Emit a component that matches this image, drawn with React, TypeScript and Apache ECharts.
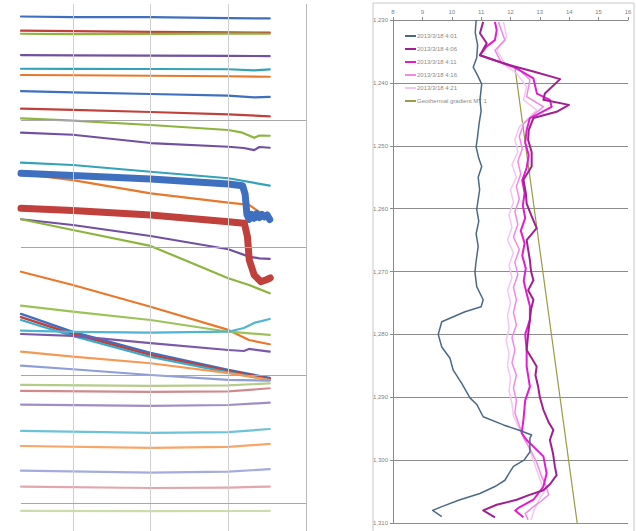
import React, { useEffect, useRef } from "react";
import * as echarts from "echarts";

// ---------- Left panel: time (x) vs value (y), 33 traces ----------
const L01 = [[0, 48.1], [2, 48.05], [5, 48.05], [8, 47.98], [9.6, 47.95]];
const L02 = [[0, 46.99], [2, 46.95], [5, 46.9], [8, 46.85], [9.6, 46.83]];
const L03 = [[0, 46.75], [2, 46.72], [5, 46.74], [8, 46.76], [9.6, 46.75]];
const L04 = [[0, 45.08], [2, 45.06], [5, 45.04], [8, 45.02], [9.6, 45.0]];
const L05 = [[0, 44.01], [2, 44.0], [5, 43.99], [8, 43.97], [9.0, 43.88], [9.6, 43.96]];
const L06 = [[0, 43.52], [2, 43.5], [5, 43.46], [8, 43.42], [9.6, 43.38]];
const L07 = [[0, 42.26], [2, 42.15], [5, 42.03], [8, 41.91], [9.0, 41.77], [9.6, 41.8]];
const L08 = [[0, 40.88], [2, 40.78], [5, 40.62], [8, 40.44], [9.6, 40.28]];
const L09 = [[0, 40.12], [2, 39.94], [5, 39.6], [8, 39.21], [8.5, 39.03], [9.0, 38.6], [9.2, 38.78], [9.6, 38.76]];
const L10 = [[0, 39.0], [2, 38.84], [5, 38.19], [8, 37.9], [8.6, 37.8], [9.0, 37.64], [9.2, 37.88], [9.6, 37.82]];
const L11 = [[0, 36.65], [2, 36.47], [5, 35.94], [8, 35.43], [9.6, 34.85]];
const L13 = [[0, 35.8], [2, 35.29], [5, 34.25], [8, 33.52], [8.8, 33.34], [9.2, 32.79], [9.6, 32.24]];
const L15 = [[0, 32.22], [2, 31.77], [5, 30.91], [8, 29.87], [8.8, 29.29], [9.2, 29.16], [9.6, 29.11]];
const L16 = [[0, 32.22], [2, 31.38], [5, 30.13], [8, 27.6], [8.8, 27.07], [9.6, 26.42]];
const L17 = [[0, 28.11], [2, 27.07], [5, 25.37], [8, 23.55], [8.8, 22.76], [9.6, 22.43]];
const L18 = [[0, 25.45], [2, 24.98], [5, 24.33], [8, 23.41], [9.6, 23.16]];
const L19 = [[0, 24.8], [2, 23.39], [5, 21.75], [8, 20.42], [9.6, 19.79]];
const L20 = [[0, 24.56], [2, 23.23], [5, 21.59], [8, 20.34], [9.6, 19.71]];
const L21 = [[0, 24.33], [2, 23.08], [5, 21.43], [8, 20.22], [9.6, 19.63]];
const L22 = [[0, 23.49], [2, 23.39], [5, 23.34], [8, 23.41], [8.6, 23.7], [9.0, 24.1], [9.6, 24.41]];
const L23 = [[0, 23.23], [2, 23.08], [5, 22.51], [8, 21.98], [8.6, 21.9], [8.8, 22.06], [9.6, 21.85]];
const L24 = [[0, 21.85], [2, 21.46], [5, 20.94], [8, 20.16], [9.6, 19.63]];
const L25 = [[0, 20.75], [2, 20.47], [5, 20.02], [8, 19.63], [9.6, 19.58]];
const L26 = [[0, 19.24], [5, 19.16], [8, 19.2], [9.6, 19.37]];
const L27 = [[0, 18.77], [5, 18.69], [8, 18.73], [9.6, 18.98]];
const L28 = [[0, 17.7], [5, 17.6], [8, 17.67], [9.6, 17.85]];
const L29 = [[0, 15.64], [5, 15.48], [8, 15.54], [9.6, 15.79]];
const L30 = [[0, 14.46], [5, 14.31], [8, 14.39], [9.6, 14.62]];
const L31 = [[0, 12.53], [5, 12.37], [8, 12.45], [9.6, 12.64]];
const L32 = [[0, 11.28], [5, 11.17], [8, 11.2], [9.6, 11.28]];
const L33 = [[0, 9.37], [5, 9.35], [9.6, 9.37]];
const L12 = [[0, 35.82], [2, 35.65], [5, 35.37], [8, 34.98], [8.55, 34.85], [8.65, 34.2], [8.72, 32.6], [8.8, 32.2], [8.9, 32.6], [9.0, 32.3], [9.1, 32.65], [9.2, 32.35], [9.3, 32.6], [9.4, 32.4], [9.5, 32.55], [9.6, 32.2]];
const L14 = [[0, 33.08], [2, 32.9], [5, 32.55], [8, 32.03], [8.5, 31.93], [8.62, 31.9], [8.74, 30.85], [8.81, 29.03], [9.0, 27.85], [9.26, 27.33], [9.45, 27.46], [9.62, 27.62]];

const leftData = [L01, L02, L03, L04, L05, L06, L07, L08, L09, L10, L11, L13, L15, L16, L17, L18, L19, L20, L21, L22, L23, L24, L25, L26, L27, L28, L29, L30, L31, L32, L33, L12, L14];
const leftColors = ["#3f6fbf", "#c0403c", "#8cb43e", "#7150a2", "#34a2b8", "#e8782c", "#3f6fbf", "#c0403c", "#8cb43e", "#7150a2", "#34a2b8", "#e8782c", "#7150a2", "#8cb43e", "#e8782c", "#9cc25a", "#3f6fbf", "#c0403c", "#3aaac8", "#50b4d4", "#7a5aa8", "#f39a56", "#8e9ed8", "#b4cc88", "#d08a8e", "#a08cc8", "#6ec2d8", "#f7a66a", "#a4acdf", "#e2a6ae", "#cddcab", "#3f6fbf", "#c0403c"];
const leftWidths = [2.2, 2.2, 2.2, 2.2, 2.2, 2.2, 2.2, 2.2, 2.2, 2.2, 2.2, 2.2, 2.2, 2.2, 2.2, 2.2, 2.4, 2.4, 2.2, 2.2, 2.2, 2.2, 2.2, 2.2, 2.2, 2.2, 2.2, 2.2, 2.2, 2.2, 2.2, 7, 7];
const leftXGrid = [2, 5, 8];
const leftYGrid = [10, 20, 30, 40];

// ---------- Right panel: temperature (x) vs depth (y) ----------
const seriesNames = ["2013/3/18 4:01", "2013/3/18 4:06", "2013/3/18 4:11", "2013/3/18 4:16", "2013/3/18 4:21", "Geothermal gradient MT 1"];
const R1 = [[10.83, 1230], [10.8, 1232], [10.88, 1234], [10.85, 1236], [10.73, 1237.5], [10.9, 1239], [11.02, 1240.2], [10.96, 1242.7], [11.0, 1244.5], [10.93, 1246.5], [10.88, 1248.5], [10.83, 1250.2], [10.92, 1252], [11.02, 1253.3], [10.9, 1255], [10.95, 1257], [10.85, 1260.1], [10.92, 1262], [10.83, 1264], [10.9, 1266], [10.82, 1268.7], [10.79, 1270.1], [10.85, 1272.4], [11.07, 1274.5], [11.0, 1275.6], [10.45, 1276.4], [9.66, 1278], [9.54, 1280], [9.66, 1282], [9.94, 1283.8], [10.05, 1285.7], [10.34, 1287.8], [10.62, 1290.1], [10.86, 1291.2], [11.07, 1293.1], [11.76, 1294.4], [12.27, 1295.2], [12.72, 1296], [12.66, 1296.5], [12.66, 1298.7], [12.46, 1300], [12.1, 1301], [11.95, 1302.1], [11.81, 1303.2], [11.47, 1304.2], [10.96, 1305.3], [10.28, 1306.3], [9.66, 1307.4], [9.35, 1308], [9.66, 1309]];
const R2 = [[11.07, 1230.3], [10.96, 1232.1], [11.19, 1233.7], [11.0, 1235.3], [10.96, 1235.6], [11.98, 1237.2], [12.78, 1238.2], [13.69, 1239.4], [13.17, 1241.7], [13.12, 1242.7], [13.99, 1243.5], [13.57, 1244.6], [12.78, 1245.6], [12.62, 1247.5], [12.6, 1249.1], [12.72, 1251], [12.72, 1253.3], [12.44, 1255.4], [12.52, 1257.5], [12.55, 1259.2], [12.7, 1261], [12.89, 1263.1], [12.55, 1265], [12.6, 1266.5], [12.66, 1268.2], [12.7, 1270], [12.78, 1271.4], [12.6, 1273], [12.78, 1274.5], [12.7, 1276], [12.66, 1277.7], [12.6, 1280], [12.55, 1282.5], [12.75, 1284], [12.89, 1285.1], [12.85, 1286.5], [12.94, 1288.3], [13.0, 1290], [13.12, 1292], [13.3, 1294], [13.46, 1295.2], [13.34, 1296.8], [13.45, 1299], [13.51, 1301], [13.57, 1302.4], [13.35, 1303.8], [13.12, 1304.8], [12.6, 1305.6], [12.21, 1306.3], [11.53, 1307.1], [11.07, 1308], [11.47, 1309.1]];
const R3 = [[11.47, 1230.3], [11.53, 1231.6], [11.47, 1233.2], [11.19, 1234.2], [10.96, 1235.6], [11.5, 1236.5], [12.1, 1237.4], [12.78, 1239.3], [12.9, 1241.7], [13.34, 1242.7], [13.4, 1243.8], [12.89, 1245.1], [12.66, 1245.6], [12.55, 1247.5], [12.5, 1249.5], [12.62, 1251.5], [12.55, 1253.5], [12.4, 1255.5], [12.48, 1257.5], [12.42, 1259.5], [12.5, 1261.5], [12.35, 1263.5], [12.48, 1265.5], [12.4, 1267.5], [12.52, 1269.5], [12.45, 1271.5], [12.55, 1273.5], [12.66, 1275.5], [12.66, 1277.7], [12.5, 1280], [12.55, 1282.5], [12.55, 1285.1], [12.66, 1288.3], [12.5, 1290.5], [12.44, 1293.6], [12.38, 1295.7], [12.55, 1296.8], [13.12, 1299.4], [13.23, 1302.1], [13.12, 1304.2], [12.78, 1306.3], [12.3, 1307.5], [12.16, 1308], [12.44, 1309.1]];
const R4 = [[11.59, 1230.3], [11.7, 1231.8], [11.81, 1233.2], [11.47, 1234.8], [11.7, 1236.9], [12.32, 1238], [12.66, 1239.5], [12.55, 1242.2], [13.12, 1243.8], [12.78, 1245.1], [12.45, 1246.5], [12.3, 1248.5], [12.4, 1250.5], [12.25, 1252.5], [12.35, 1254.5], [12.2, 1256.5], [12.3, 1258.5], [12.15, 1260.5], [12.25, 1262.5], [12.1, 1264.5], [12.3, 1266.5], [12.15, 1268.5], [12.25, 1270.5], [12.1, 1272.5], [12.2, 1274.5], [12.1, 1276.5], [12.2, 1278.5], [12.05, 1280.5], [12.15, 1282.5], [12.05, 1284.5], [12.2, 1286.5], [12.1, 1288.5], [12.2, 1290.5], [12.15, 1292.5], [12.3, 1294.5], [12.45, 1296.5], [12.7, 1298.5], [12.9, 1300.5], [13.05, 1302.5], [13.2, 1304], [13.3, 1305.5], [13.05, 1306.5], [12.75, 1307.5], [12.5, 1308.5], [12.6, 1309.5]];
const R5 = [[11.76, 1230.3], [11.87, 1232.7], [11.53, 1234.8], [11.87, 1237.4], [12.21, 1238.5], [12.55, 1240.6], [12.44, 1242.7], [12.89, 1244.3], [12.66, 1245.4], [12.3, 1247], [12.15, 1249], [12.25, 1251], [12.05, 1253], [12.2, 1255], [12.0, 1257], [12.1, 1259], [11.95, 1261], [12.05, 1263], [11.9, 1265], [12.1, 1267], [11.95, 1269], [12.05, 1271], [11.9, 1273], [12.0, 1275], [11.9, 1277], [11.95, 1279], [11.85, 1281], [11.95, 1283], [11.9, 1285], [12.0, 1287], [11.95, 1289], [12.05, 1291], [12.1, 1293], [12.3, 1295], [12.55, 1297], [12.7, 1299], [12.85, 1301], [13.0, 1303], [13.15, 1305], [12.95, 1306.5], [12.8, 1308], [12.7, 1309.5]];
const R6 = [[12.15, 1237.5], [14.27, 1310]];
const rightData = [R1, R2, R3, R4, R5, R6];
const rightColors = ["#4b6a82", "#a0208f", "#e01ed0", "#f08ae6", "#f5c6f1", "#9a9a48"];
const rightWidths = [1.5, 2, 2, 1.5, 1.5, 1.2];

export default function App() {
  const ref = useRef<HTMLDivElement>(null);
  useEffect(() => {
    const chart = echarts.init(ref.current!, null, { renderer: "svg" });
    const series: any[] = [];
    series.push({
      type: "line",
      name: "grid-left",
      xAxisIndex: 0,
      yAxisIndex: 0,
      data: [[0, 7.9]],
      showSymbol: false,
      lineStyle: { opacity: 0 },
      silent: true,
      z: 1,
      markLine: {
        silent: true,
        symbol: "none",
        label: { show: false },
        animation: false,
        data: [
          ...leftXGrid.map((v) => ({ xAxis: v, lineStyle: { color: "#cfcfcf", width: 1, type: "solid" } })),
          { xAxis: 11, lineStyle: { color: "#b8b8b8", width: 1, type: "solid" } },
          ...leftYGrid.map((v) => ({ yAxis: v, lineStyle: { color: "#a8a8a8", width: 1, type: "solid" } })),
        ],
      },
    });
    leftData.forEach((d, i) => {
      series.push({
        type: "line",
        name: "left" + i,
        xAxisIndex: 0,
        yAxisIndex: 0,
        data: d,
        showSymbol: false,
        silent: true,
        z: 2,
        lineStyle: { color: leftColors[i], width: leftWidths[i], cap: "round", join: "round" },
      });
    });
    rightData.forEach((d, i) => {
      series.push({
        type: "line",
        name: seriesNames[i],
        xAxisIndex: 1,
        yAxisIndex: 1,
        data: d,
        showSymbol: false,
        silent: true,
        z: 2 + (i === 5 ? 0 : 5 - i),
        itemStyle: { color: rightColors[i] },
        lineStyle: { color: rightColors[i], width: rightWidths[i], join: "round" },
      });
    });
    const tinyLabel = { fontSize: 6, color: "#7f7f7f", fontFamily: "Liberation Sans" };
    chart.setOption({
      animation: false,
      backgroundColor: "#ffffff",
      grid: [
        { left: 21, top: 4, width: 285, height: 527 },
        { left: 393, top: 20, width: 235, height: 503 },
      ],
      xAxis: [
        { gridIndex: 0, type: "value", min: 0, max: 11, show: false },
        {
          gridIndex: 1,
          type: "value",
          position: "top",
          min: 8,
          max: 16,
          interval: 1,
          axisLine: { show: true, lineStyle: { color: "#8a8a8a", width: 1 } },
          axisTick: { show: true, length: 3, lineStyle: { color: "#8a8a8a" } },
          axisLabel: { ...tinyLabel, margin: 5 },
          splitLine: { show: false },
        },
      ],
      yAxis: [
        { gridIndex: 0, type: "value", min: 7.8, max: 49.08, show: false },
        {
          gridIndex: 1,
          type: "value",
          inverse: true,
          min: 1230,
          max: 1310,
          interval: 10,
          axisLine: { show: true, lineStyle: { color: "#8a8a8a", width: 1 } },
          axisTick: { show: true, length: 3, lineStyle: { color: "#8a8a8a" } },
          axisLabel: { ...tinyLabel, margin: 5 },
          splitLine: { show: true, lineStyle: { color: "#8c8c8c", width: 1 } },
        },
      ],
      legend: {
        data: seriesNames,
        orient: "vertical",
        left: 400,
        top: 27,
        icon: "rect",
        itemWidth: 11,
        itemHeight: 2,
        itemGap: 5,
        selectedMode: false,
        textStyle: { fontSize: 6, lineHeight: 8, color: "#8a8a8a", fontFamily: "Liberation Sans", padding: [0, 0, 0, -4] },
      },
      graphic: [
        {
          type: "rect",
          shape: { x: 373, y: 3, width: 261, height: 540 },
          style: { fill: "none", stroke: "#c8c8c8", lineWidth: 1 },
          silent: true,
          z: -1,
        },
      ],
      series,
    });
    return () => chart.dispose();
  }, []);
  return <div ref={ref} style={{ position: "absolute", left: 0, top: 0, width: 636, height: 531 }} />;
}
